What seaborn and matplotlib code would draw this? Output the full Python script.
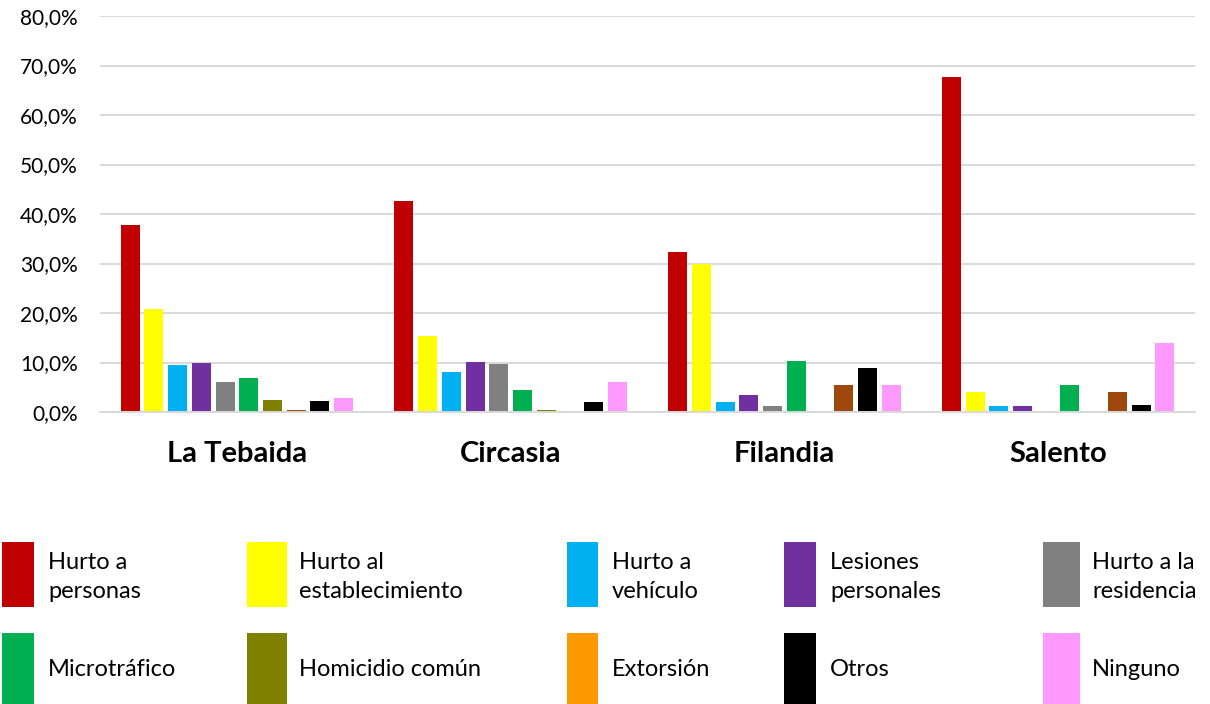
import matplotlib
matplotlib.use("Agg")
import matplotlib.pyplot as plt
import seaborn as sns
import pandas as pd
from matplotlib.patches import Rectangle
from matplotlib.ticker import FuncFormatter, MultipleLocator

# Municipalities (x categories)
municipios = ["La Tebaida", "Circasia", "Filandia", "Salento"]

# Crime types (hue), in drawing order
delitos = ["Hurto a personas", "Hurto al establecimiento", "Hurto a vehículo",
           "Lesiones personales", "Hurto a la residencia", "Microtráfico",
           "Homicidio común", "Extorsión", "Otros", "Ninguno"]

# Percentage of respondents per municipality, one list per crime type
hurto_personas = [37.8, 42.7, 32.4, 67.7]
hurto_establecimiento = [20.9, 15.4, 29.8, 4.1]
hurto_vehiculo = [9.5, 8.0, 2.0, 1.2]
lesiones_personales = [9.8, 10.2, 3.4, 1.2]
hurto_residencia = [6.1, 9.7, 1.3, 0.0]
microtrafico = [6.8, 4.4, 10.3, 5.5]
homicidio_comun = [2.4, 0.4, 0.0, 0.0]
extorsion = [0.4, 0.0, 5.5, 4.1]
otros = [2.2, 2.0, 8.8, 1.4]
ninguno = [2.8, 6.1, 5.5, 14.0]

series = [hurto_personas, hurto_establecimiento, hurto_vehiculo,
          lesiones_personales, hurto_residencia, microtrafico,
          homicidio_comun, extorsion, otros, ninguno]

# Bar colours and legend swatch colours
bar_colors = ["#C00000", "#FFFF00", "#00B0F0", "#7030A0", "#808080",
              "#00B050", "#808000", "#9E480E", "#000000", "#FF99FF"]
legend_colors = ["#C00000", "#FFFF00", "#00B0F0", "#7030A0", "#808080",
                 "#00B050", "#808000", "#FF9900", "#000000", "#FF99FF"]
legend_labels = ["Hurto a\npersonas", "Hurto al\nestablecimiento", "Hurto a\nvehículo",
                 "Lesiones\npersonales", "Hurto a la\nresidencia", "Microtráfico",
                 "Homicidio común", "Extorsión", "Otros", "Ninguno"]

rows = []
for delito, vals in zip(delitos, series):
    for m, v in zip(municipios, vals):
        rows.append({"municipio": m, "delito": delito, "valor": v})
df = pd.DataFrame(rows)

sns.set_theme(style="white")
plt.rcParams["font.family"] = ["Lato", "DejaVu Sans"]

W, H = 1210, 704
fig = plt.figure(figsize=(W / 100, H / 100), dpi=100)
ax = fig.add_axes([100 / W, 1 - 412 / H, 1095 / W, 396 / H])

sns.barplot(data=df, x="municipio", y="valor", hue="delito",
            order=municipios, hue_order=delitos, palette=bar_colors,
            width=0.866, gap=0.2, saturation=1, errorbar=None,
            legend=False, linewidth=0, ax=ax)

ax.set_xlim(-0.5, 3.5)
ax.set_ylim(0, 80)
ax.yaxis.set_major_locator(MultipleLocator(10))
ax.yaxis.set_major_formatter(FuncFormatter(lambda v, p: f"{v:.1f}%".replace(".", ",")))
ax.yaxis.grid(True, color="#D9D9D9", linewidth=1.4)
ax.set_axisbelow(True)
for side in ["top", "right", "left"]:
    ax.spines[side].set_visible(False)
ax.spines["bottom"].set_color("#D9D9D9")
ax.spines["bottom"].set_linewidth(1.4)
ax.tick_params(axis="both", length=0)
ax.tick_params(axis="y", pad=16, labelsize=15, labelcolor="#000000")
ax.tick_params(axis="x", pad=21, labelsize=21, labelcolor="#000000")
for t in ax.get_xticklabels():
    t.set_fontweight("bold")
ax.set_xlabel("")
ax.set_ylabel("")

# Legend laid out as a 2 x 5 grid below the chart
swatch_x = [2, 247, 567, 784, 1043]
swatch_w = [32, 40, 31, 32, 37]
text_x = [48, 299, 612, 830, 1092]
row_top = [542, 633]
row_bottom = [607, 704]
for i, (lab, col) in enumerate(zip(legend_labels, legend_colors)):
    r, c = divmod(i, 5)
    y0, y1 = row_top[r], row_bottom[r]
    fig.add_artist(Rectangle((swatch_x[c] / W, 1 - y1 / H), swatch_w[c] / W, (y1 - y0) / H,
                             transform=fig.transFigure, facecolor=col, edgecolor="none"))
    yc = (577 if r == 0 else 670)
    fig.text(text_x[c] / W, 1 - yc / H, lab, ha="left", va="center",
             fontsize=17, color="#000000", linespacing=1.5)

fig.savefig("out.png", dpi=100, facecolor="white")
